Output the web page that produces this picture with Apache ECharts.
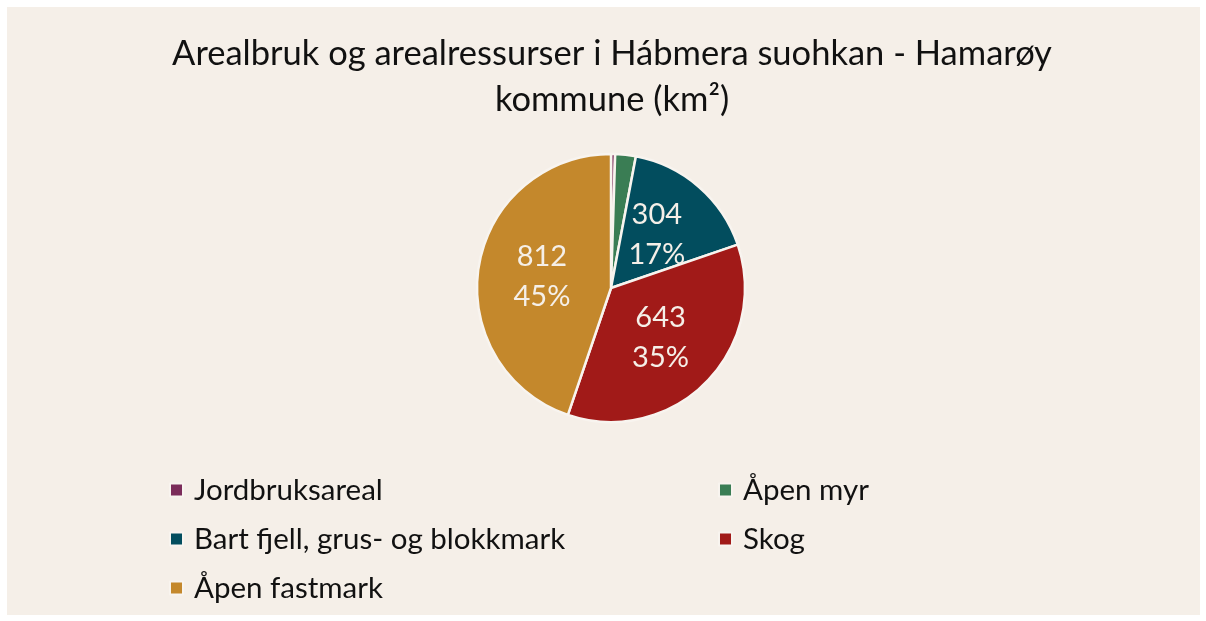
<!DOCTYPE html>
<html>
<head>
<meta charset="utf-8">
<script src="https://cdn.jsdelivr.net/npm/echarts@6/dist/echarts.min.js"></script>
<style>
  html, body { margin: 0; padding: 0; background: #ffffff; }
  #chart { position: absolute; left: 7px; top: 7px; width: 1193px; height: 608px; }
</style>
</head>
<body>
<div id="chart"></div>
<script>
// arealbruk i km²
const categories = ['Jordbruksareal', 'Åpen myr', 'Bart fjell, grus- og blokkmark', 'Skog', 'Åpen fastmark'];
const values = [9, 45, 304, 643, 812];
const colors = ['#7B2C5A', '#3A7D54', '#024D5E', '#A11A18', '#C4882C'];
const showLabel = [false, false, true, true, true];

const chart = echarts.init(document.getElementById('chart'));

const option = {
  backgroundColor: '#F5EFE8',
  animation: false,
  title: {
    text: 'Arealbruk og arealressurser i Hábmera suohkan - Hamarøy\nkommune (km²)',
    left: 600,
    textAlign: 'center',
    top: 19,
    textStyle: {
      fontFamily: 'Lato',
      fontWeight: 'normal',
      fontSize: 34.5,
      lineHeight: 46,
      color: '#111111'
    }
  },
  legend: {
    left: 157,
    top: 463,
    width: 1100,
    itemWidth: 13,
    itemHeight: 13,
    itemGap: 19,
    icon: 'rect',
    textStyle: {
      fontFamily: 'Lato',
      fontSize: 29.5,
      color: '#111111',
      width: 505,
      lineHeight: 30,
      padding: [0, 0, 0, 6]
    },
    data: categories
  },
  series: [{
    type: 'pie',
    center: [604, 281],
    radius: 134,
    startAngle: 90,
    clockwise: true,
    itemStyle: {
      borderColor: '#F8F4EF',
      borderWidth: 2.5
    },
    label: {
      position: 'inside',
      formatter: p => p.value + '\n' + Math.round(p.percent) + '%',
      fontFamily: 'Lato',
      fontSize: 29,
      lineHeight: 40,
      color: '#F5EFE8'
    },
    labelLine: { show: false },
    data: categories.map((name, i) => ({
      name: name,
      value: values[i],
      itemStyle: { color: colors[i] },
      label: { show: showLabel[i] }
    }))
  }]
};

chart.setOption(option);
</script>
</body>
</html>
